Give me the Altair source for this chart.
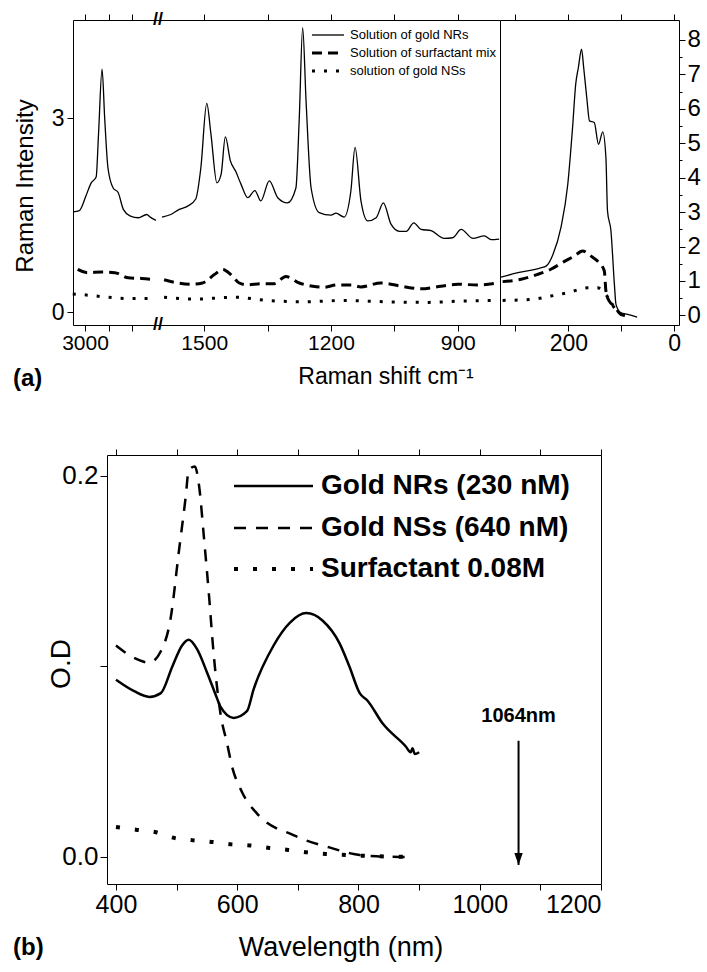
import altair as alt
import pandas as pd

FONT = "Liberation Sans"

# ------------------------------------------------------------------
# Panel (a): Raman spectra, x axis broken into three ranges
# ------------------------------------------------------------------
# range 1 (high wavenumber), left intensity axis
nr1_x = [3051, 3024, 2996, 2974, 2953, 2943, 2928, 2917, 2903, 2881, 2860, 2838, 2810, 2774, 2739, 2724, 2700]
nr1_y = [1.55, 1.57, 1.80, 2.00, 2.09, 2.75, 3.76, 3.01, 2.23, 1.92, 1.85, 1.59, 1.49, 1.46, 1.51, 1.47, 1.42]
mix1_x = [3031, 2989, 2931, 2874, 2817, 2760, 2703]
mix1_y = [0.66, 0.61, 0.62, 0.61, 0.53, 0.52, 0.50]
ns1_x = [3052, 3010, 2959, 2900, 2817, 2760, 2717]
ns1_y = [0.28, 0.27, 0.25, 0.23, 0.21, 0.21, 0.21]

# range 2 (fingerprint region), left intensity axis
nr2_x = [1600, 1579, 1559, 1539, 1520, 1508, 1494, 1484, 1470, 1460, 1450, 1438, 1425, 1413, 1397, 1380,
         1366, 1346, 1326, 1303, 1283, 1275, 1267, 1259, 1247, 1228, 1200, 1188, 1169, 1153, 1143, 1129,
         1113, 1093, 1076, 1058, 1038, 1022, 1004, 987, 963, 932, 912, 892, 864, 837, 821, 802]
nr2_y = [1.47, 1.51, 1.59, 1.64, 1.75, 2.23, 3.23, 2.75, 2.00, 2.13, 2.71, 2.34, 2.17, 1.98, 1.77, 1.88,
         1.72, 2.03, 1.77, 1.69, 1.92, 3.01, 4.40, 3.27, 1.92, 1.54, 1.50, 1.53, 1.47, 1.87, 2.55, 1.72,
         1.41, 1.46, 1.69, 1.36, 1.25, 1.25, 1.38, 1.28, 1.26, 1.14, 1.15, 1.28, 1.14, 1.18, 1.12, 1.13]
mix2_x = [1595, 1563, 1532, 1504, 1476, 1456, 1437, 1417, 1397, 1366, 1334, 1307, 1275, 1243, 1216, 1185,
          1153, 1129, 1082, 1034, 987, 940, 900, 853, 806]
mix2_y = [0.50, 0.45, 0.43, 0.45, 0.58, 0.66, 0.58, 0.45, 0.42, 0.44, 0.44, 0.55, 0.45, 0.40, 0.385, 0.42,
          0.42, 0.39, 0.45, 0.40, 0.36, 0.40, 0.43, 0.42, 0.45]
ns2_x = [1595, 1524, 1429, 1350, 1263, 1169, 1074, 971, 892, 806]
ns2_y = [0.23, 0.20, 0.23, 0.18, 0.16, 0.18, 0.16, 0.15, 0.17, 0.18]

# range 3 (low wavenumber), right intensity axis
nr3_x = [327, 295, 252, 242, 229, 214, 201, 192, 186, 181, 175, 171, 165, 160, 151, 143, 135, 129, 126,
         119.5, 113, 110, 101, 88, 70]
nr3_y = [1.11, 1.24, 1.38, 1.43, 1.77, 2.55, 3.81, 5.45, 6.72, 7.20, 7.73, 7.20, 6.30, 5.65, 5.60, 4.97,
         5.33, 4.58, 3.03, 2.45, 0.90, 0.32, 0.08, 0.03, -0.05]
mix3_x = [324, 289, 258, 233, 208, 189, 173, 157, 142, 132, 129, 123, 113, 101, 85]
mix3_y = [0.98, 1.05, 1.19, 1.34, 1.56, 1.72, 1.87, 1.72, 1.53, 1.29, 0.71, 0.42, 0.27, 0.03, -0.02]
ns3_x = [324, 270, 233, 201, 163, 145, 132, 113, 101, 85]
ns3_y = [0.435, 0.465, 0.56, 0.66, 0.80, 0.80, 0.66, 0.22, 0.03, 0.0]

a1_ticks = [3000, 2900, 2800]
a2_ticks = [1500, 1350, 1200, 1050, 900]
a3_ticks = [300, 200, 100, 0]
a_left_ticks = [0, 3]
a_right_major = [0, 1, 2, 3, 4, 5, 6, 7, 8]
a_right_minor = [0.5, 1.5, 2.5, 3.5, 4.5, 5.5, 6.5, 7.5]
legend_a = ["Solution of gold NRs", "Solution of surfactant mix", "solution of gold NSs"]
title_a_x = "Raman shift cm\u207b\u00b9"
title_a_y = "Raman Intensity"

# ------------------------------------------------------------------
# Panel (b): absorption spectra
# ------------------------------------------------------------------
nrb_x = [400, 430, 455, 474, 493, 509, 520, 534, 550, 567, 572, 594, 616, 627, 660, 687, 714, 741, 769,
         785, 802, 815, 840, 878, 886, 889, 893, 900]
nrb_y = [0.093, 0.087, 0.084, 0.086, 0.100, 0.111, 0.114, 0.109, 0.097, 0.083, 0.079, 0.073, 0.0765,
         0.088, 0.111, 0.123, 0.128, 0.124, 0.112, 0.100, 0.086, 0.082, 0.070, 0.058, 0.055, 0.057, 0.054, 0.055]
nsb_x = [400, 427, 455, 474, 490, 504, 515, 520, 530, 537, 545, 553, 561, 569, 573, 583, 591, 608, 632,
         665, 681, 711, 752, 785, 802, 834, 878]
nsb_y = [0.111, 0.105, 0.102, 0.108, 0.125, 0.161, 0.189, 0.203, 0.205, 0.195, 0.168, 0.139, 0.107,
         0.083, 0.074, 0.060, 0.048, 0.034, 0.023, 0.015, 0.013, 0.009, 0.005, 0.002, 0.001, 0.0003, 0.0]
sfb_x = [400, 433, 466, 496, 528, 558, 591, 622, 653, 684, 716, 746, 780, 820, 880]
sfb_y = [0.0157, 0.0143, 0.013, 0.010, 0.0087, 0.0079, 0.0066, 0.006, 0.0047, 0.0037, 0.0024, 0.0016,
         0.001, 0.0005, 0.0]
b_x_ticks = [400, 500, 600, 700, 800, 900, 1000, 1100, 1200]
b_y_ticks = [0.0, 0.1, 0.2]
legend_b = ["Gold NRs (230 nM)", "Gold NSs (640 nM)", "Surfactant 0.08M"]
title_b_x = "Wavelength (nm)"
title_b_y = "O.D"
laser_x = [1064]
laser_top = [0.061]
laser_bottom = [-0.0042]
laser_label = ["1064nm"]
laser_label_y = [0.074]


def frame(xs, ys):
    assert len(xs) == len(ys)
    return pd.DataFrame({"x": xs, "y": ys})


def line(data, xsc, ysc, width, dash=None, xaxis=None, yaxis=None, opacity=1.0):
    kw = dict(stroke="black", strokeWidth=width, interpolate="monotone", opacity=opacity)
    if dash is not None:
        kw["strokeDash"] = dash
    return alt.Chart(data).mark_line(**kw).encode(
        x=alt.X("x:Q", scale=xsc, axis=xaxis),
        y=alt.Y("y:Q", scale=ysc, axis=yaxis),
    )


def label(text, x, y, size, weight="normal", align="left", baseline="middle", angle=0):
    return alt.Chart(pd.DataFrame({"t": [text]})).mark_text(
        font=FONT, fontSize=size, fontWeight=weight, align=align, baseline=baseline, color="black",
        angle=angle
    ).encode(x=alt.value(x), y=alt.value(y), text="t:N")


def legend_line(x1, x2, y, width, dash=None):
    kw = dict(color="black", strokeWidth=width)
    if dash is not None:
        kw["strokeDash"] = dash
    return alt.Chart(pd.DataFrame({"k": [0]})).mark_rule(**kw).encode(
        x=alt.value(x1), x2=alt.value(x2), y=alt.value(y))


H_A = 305
W1, W2, W3 = 86, 341, 179
yL = alt.Scale(domain=[-0.2, 4.52], nice=False, zero=False)
yR = alt.Scale(domain=[-0.28, 8.58], nice=False, zero=False)
x1 = alt.Scale(domain=[3051, 2687], nice=False, zero=False)
x2 = alt.Scale(domain=[1607, 800], nice=False, zero=False)
x3 = alt.Scale(domain=[329, -9], nice=False, zero=False)

SOLID_A, DASH_A, DOT_A = 1.3, [10, 6], [3, 9]

# ---- segment 1 ----
b1 = alt.Axis(orient="bottom", values=a1_ticks, format="d",
              labelExpr="datum.value == 3000 ? datum.label : ''",
              tickSize=6, labelFontSize=21, labelPadding=1, title=None)
t1 = alt.Axis(orient="top", values=a1_ticks, labels=False, tickSize=6, title=None)
yaxis_left = alt.Axis(orient="left", values=a_left_ticks, format="d", tickSize=6, labelFontSize=23,
                      labelPadding=3, title=None)
seg1 = alt.layer(
    line(frame(nr1_x, nr1_y), x1, yL, SOLID_A, xaxis=b1, yaxis=yaxis_left),
    line(frame(mix1_x, mix1_y), x1, yL, 3, DASH_A),
    line(frame(ns1_x, ns1_y), x1, yL, 3, DOT_A),
    line(frame(nr1_x, nr1_y), x1, yL, 1, xaxis=t1, opacity=0),
    label("(a)", -60, 359, 24, weight="bold"),
    label(title_a_y, -47, 166, 24, align="center", angle=270),
).resolve_axis(x="independent", y="independent").properties(width=W1, height=H_A)

# ---- segment 2 ----
b2 = alt.Axis(orient="bottom", values=a2_ticks, format="d",
              labelExpr="(datum.value == 1500 || datum.value == 1200 || datum.value == 900) ? datum.label : ''",
              tickSize=6, labelFontSize=21, labelPadding=1, title=None)
t2 = alt.Axis(orient="top", values=a2_ticks, labels=False, tickSize=6, title=None)
seg2_layers = [
    line(frame(nr2_x, nr2_y), x2, yL, SOLID_A, xaxis=b2),
    line(frame(mix2_x, mix2_y), x2, yL, 3, DASH_A),
    line(frame(ns2_x, ns2_y), x2, yL, 3, DOT_A),
    line(frame(nr2_x, nr2_y), x2, yL, 1, xaxis=t2, opacity=0),
    legend_line(153, 185, 15, 1.3),
    legend_line(153, 185, 33, 3, DASH_A),
    legend_line(153, 185, 51, 3, DOT_A),
    label("//", -1, 0, 18, weight="bold", align="center"),
    label("//", -1, H_A, 18, weight="bold", align="center"),
    label(title_a_x, 227, H_A + 59, 23, align="center", baseline="alphabetic"),
]
for i, txt in enumerate(legend_a):
    seg2_layers.append(label(txt, 191, 15 + 18 * i, 13))
seg2 = alt.layer(*seg2_layers).resolve_axis(x="independent", y="independent").properties(
    width=W2, height=H_A)

# ---- segment 3 ----
b3 = alt.Axis(orient="bottom", values=a3_ticks, format="d",
              labelExpr="(datum.value == 200 || datum.value == 0) ? datum.label : ''",
              tickSize=6, labelFontSize=23, labelPadding=1, title=None)
t3 = alt.Axis(orient="top", values=a3_ticks, labels=False, tickSize=6, title=None)
y3_left = alt.Axis(orient="left", labels=False, ticks=False, title=None)
y3_right = alt.Axis(orient="right", values=a_right_major, format="d", tickSize=6, labelFontSize=24,
                    labelPadding=2, title=None)
y3_minor = alt.Axis(orient="right", values=a_right_minor, labels=False, domain=False, tickSize=3, title=None)
seg3 = alt.layer(
    line(frame(nr3_x, nr3_y), x3, yR, SOLID_A, xaxis=b3, yaxis=y3_left),
    line(frame(mix3_x, mix3_y), x3, yR, 3, DASH_A),
    line(frame(ns3_x, ns3_y), x3, yR, 3, DOT_A),
    line(frame(nr3_x, nr3_y), x3, yR, 1, xaxis=t3, yaxis=y3_right, opacity=0),
    line(frame(nr3_x, nr3_y), x3, yR, 1, yaxis=y3_minor, opacity=0),
).resolve_axis(x="independent", y="independent").properties(width=W3, height=H_A)

panel_a = alt.hconcat(seg1, seg2, seg3, spacing=0, bounds="flush")

# ---- panel (b) ----
W_B, H_B = 494, 429
xb = alt.Scale(domain=[385.2, 1200], nice=False, zero=False)
yb = alt.Scale(domain=[-0.0142, 0.211], nice=False, zero=False)
bb = alt.Axis(orient="bottom", values=b_x_ticks, format="d",
              labelExpr="datum.value % 200 == 0 ? datum.label : ''", tickSize=6, labelFontSize=25,
              labelPadding=2, title=None)
tb = alt.Axis(orient="top", values=b_x_ticks, labels=False, tickSize=6, title=None)
lb = alt.Axis(orient="left", values=b_y_ticks, format=".1f",
              labelExpr="(datum.value > 0.05 && datum.value < 0.15) ? '' : datum.label", tickSize=7,
              labelFontSize=26, labelPadding=2, title=None)
rb = alt.Axis(orient="right", labels=False, ticks=False, title=None)

SOLID_B, DASH_B, DOT_B = 2.5, [12, 10], [4, 15]
laser = pd.DataFrame({"x": laser_x, "y": laser_top, "y2": laser_bottom, "ly": laser_label_y, "t": laser_label})

panel_b_layers = [
    line(frame(nrb_x, nrb_y), xb, yb, SOLID_B, xaxis=bb, yaxis=lb),
    line(frame(nsb_x, nsb_y), xb, yb, 2.5, DASH_B),
    line(frame(sfb_x, sfb_y), xb, yb, 4, DOT_B),
    line(frame(nrb_x, nrb_y), xb, yb, 1, xaxis=tb, yaxis=rb, opacity=0),
    alt.Chart(laser).mark_rule(color="black", strokeWidth=2).encode(
        x=alt.X("x:Q", scale=xb, axis=None), y=alt.Y("y:Q", scale=yb, axis=None), y2="y2:Q"),
    alt.Chart(laser).mark_point(shape="M -0.7 -2 L 0.7 -2 L 0 0 Z", size=144, filled=True,
                                color="black", opacity=1).encode(
        x=alt.X("x:Q", scale=xb, axis=None), y=alt.Y("y2:Q", scale=yb, axis=None)),
    alt.Chart(laser).mark_text(font=FONT, fontSize=20, fontWeight="bold", align="center",
                               baseline="middle", color="black").encode(
        x=alt.X("x:Q", scale=xb, axis=None), y=alt.Y("ly:Q", scale=yb, axis=None), text="t:N"),
    legend_line(127, 206, 31, SOLID_B),
    legend_line(127, 206, 73, 2.5, DASH_B),
    legend_line(127, 206, 114, 4, DOT_B),
    label("(b)", -94, 493, 24, weight="bold"),
    label(title_b_x, 234, H_B + 72, 27, align="center", baseline="alphabetic"),
    label(title_b_y, -45, 209, 28, align="center", angle=270),
]
for i, txt in enumerate(legend_b):
    panel_b_layers.append(label(txt, 214, [31, 73, 114][i], 28, weight="bold"))
panel_b = alt.layer(*panel_b_layers).resolve_axis(x="independent", y="independent").properties(
    width=W_B, height=H_B)

# empty strip so that panel (b) starts further right than panel (a)
spacer = alt.Chart(pd.DataFrame({"k": [0]})).mark_point(opacity=0, size=1).encode(
    x=alt.value(1), y=alt.value(1)).properties(width=34, height=H_B)
row_b = alt.hconcat(spacer, panel_b, spacing=0, bounds="flush")

chart = alt.vconcat(panel_a, row_b, spacing=56).properties(
    padding={"left": 12, "top": 10, "right": 0, "bottom": 4}
).configure_view(stroke="transparent").configure_axis(
    domainColor="black", tickColor="black", labelColor="black", titleColor="black", grid=False,
    domainWidth=1, tickWidth=1, labelFont=FONT, titleFont=FONT, titleFontWeight="normal"
)

chart.save("out.html", embed_options={"renderer": "svg", "actions": False})
